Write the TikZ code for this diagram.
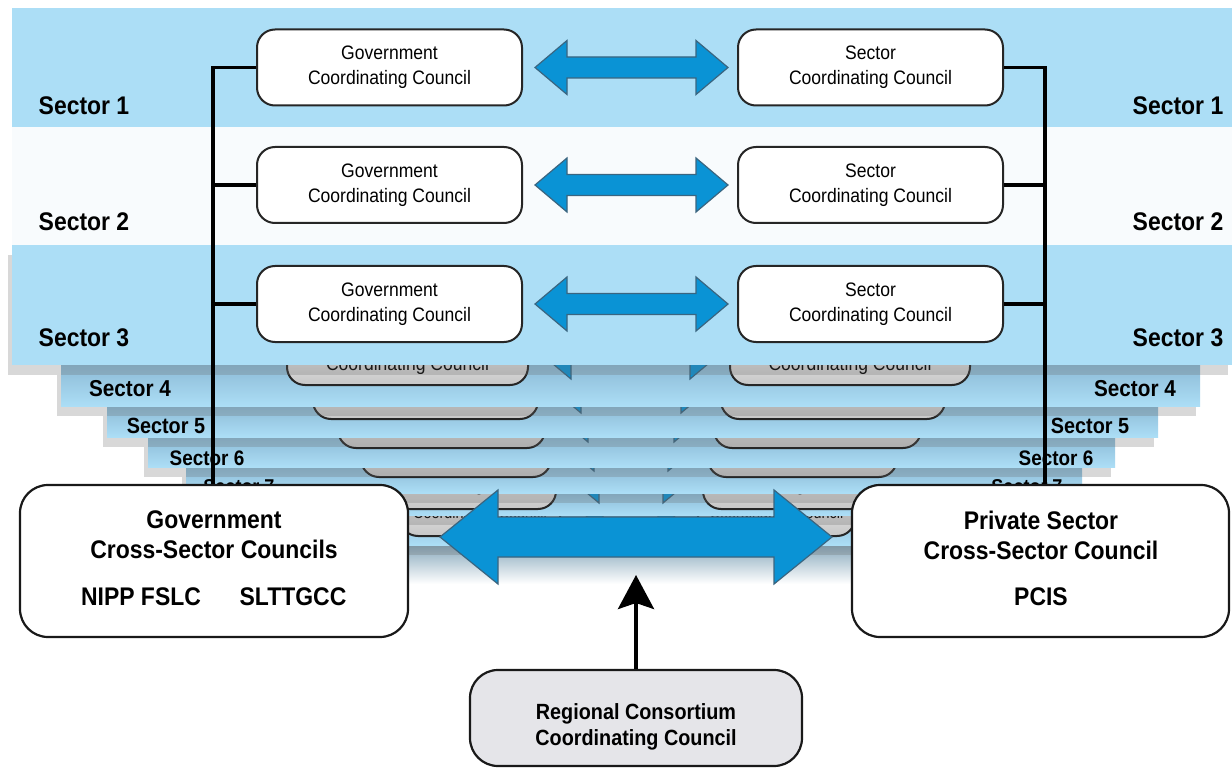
\documentclass[tikz,border=0pt]{standalone}
\usepackage{fontspec}
\setmainfont{Liberation Sans}[FakeStretch=0.9]
\usetikzlibrary{arrows.meta,shadows}

\definecolor{bandblue}{HTML}{ACDEF6}
\definecolor{bandpale}{HTML}{F8FBFD}
\definecolor{bandtop}{HTML}{8DBBD6}
\definecolor{linkblue}{HTML}{0A93D5}
\definecolor{linkedge}{HTML}{3A6580}
\definecolor{regiongray}{HTML}{E5E5E9}

% #1 left tip, #2 right tip, #3 height, #4 head length, #5 half head, #6 half shaft
\newcommand\linkarrow[6]{%
  \draw[linkarrow] (#1,#3) -- (#1+#4,#3-#5) -- (#1+#4,#3-#6) -- (#2-#4,#3-#6)
    -- (#2-#4,#3-#5) -- (#2,#3) -- (#2-#4,#3+#5) -- (#2-#4,#3+#6)
    -- (#1+#4,#3+#6) -- (#1+#4,#3+#5) -- cycle;}

\tikzset{
  council/.style={draw=black!85, line width=2pt, rounded corners=18pt, fill=white,
    minimum width=265pt, minimum height=76pt, inner sep=0pt, align=center,
    font=\fontsize{19.5}{25}\selectfont},
  backcouncil/.style={council, minimum height=64pt, top color=white, bottom color=black!22},
  crossbox/.style={draw=black!90, line width=2.2pt, rounded corners=28pt, fill=white,
    minimum height=152pt},
  crosstext/.style={align=center, inner sep=0pt, font=\bfseries\fontsize{25.5}{30}\selectfont},
  regional/.style={draw=black!90, line width=2.2pt, rounded corners=28pt, fill=regiongray,
    minimum width=332pt, minimum height=96pt},
  regionaltext/.style={align=center, inner sep=0pt, font=\bfseries\fontsize{22}{26}\selectfont},
  sectorlabel/.style={inner sep=0pt, font=\bfseries\fontsize{25.5}{25.5}\selectfont},
  backband/.style={top color=bandtop, bottom color=bandblue},
  bandshadow/.style={drop shadow={shadow xshift=-4pt, shadow yshift=-10pt, opacity=.25, fill=black!60}},
  bracket/.style={line width=3.5pt},
  linkarrow/.style={fill=linkblue, draw=linkedge, line width=1.2pt},
  uparrow/.style={line width=4pt, -{Stealth[length=34pt, width=36pt, inset=6pt]}},
}

\begin{document}
\begin{tikzpicture}[x=1pt,y=-1pt]
\useasboundingbox (0,0) rectangle (1232,770);
\fill[white] (0,0) rectangle (1232,770);

% shadow under the stack
\shade[top color=bandtop!70!gray, bottom color=white] (250,545) rectangle (1020,584);

% rear sectors, hidden labels
\foreach \s/\ytop/\ybot/\xl/\xr/\yb/\gc/\gw/\sc/\sw/\ta/\tb/\fs/\bs in {
    9/515/545/250/1020/537/480/160/776.5/157/573/688/16/20.5,
    8/493/515/220/1050/510/468/176/789/172/569/693/16.5/21}{
  \path[backband, bandshadow] (\xl,\ytop) rectangle (\xr,\ybot);
  \node[backcouncil, anchor=south, minimum width=\gw pt, font=\fontsize{\fs}{\bs}\selectfont]
    (gov\s) at (\gc,\yb) {Government\\Coordinating Council};
  \node[backcouncil, anchor=south, minimum width=\sw pt, font=\fontsize{\fs}{\bs}\selectfont]
    (sec\s) at (\sc,\yb) {Sector\\Coordinating Council};
  \linkarrow{\ta}{\tb}{\yb-32}{30}{25}{10}
}

% rear sectors 7 to 4
\foreach \s/\ytop/\ybot/\xl/\xr/\yb/\gc/\gw/\sc/\sw/\ta/\tb/\fs/\bs/\la/\lb/\ly/\ls in {
    7/467/493/186/1082/478/456/190/802.5/189/564/698/17.5/22.5/239/1027/487/20,
    6/437/467/148/1115/449/441.5/207/817.5/207/558/704/18/23/207/1056/458/21,
    5/406/437/107/1158/420/425.5/225/833/224/551/711/19/24/166/1090/426/22,
    4/365/406/61/1200/386/407.5/241/850/240/541/720/19.5/25/130/1135/389/23}{
  \path[backband, bandshadow] (\xl,\ytop) rectangle (\xr,\ybot);
  \node[backcouncil, anchor=south, minimum width=\gw pt, font=\fontsize{\fs}{\bs}\selectfont]
    (gov\s) at (\gc,\yb) {Government\\Coordinating Council};
  \node[backcouncil, anchor=south, minimum width=\sw pt, font=\fontsize{\fs}{\bs}\selectfont]
    (sec\s) at (\sc,\yb) {Sector\\Coordinating Council};
  \linkarrow{\ta}{\tb}{\yb-32}{30}{25}{10}
  \node[sectorlabel, font=\bfseries\fontsize{\ls}{\ls}\selectfont] (secl\s) at (\la,\ly) {Sector \s};
  \node[sectorlabel, font=\bfseries\fontsize{\ls}{\ls}\selectfont] (secr\s) at (\lb,\ly) {Sector \s};
}

% front sectors
\fill[bandblue, bandshadow] (12,245) rectangle (1232,365);
\fill[bandpale] (12,127) rectangle (1232,245);
\fill[bandblue] (12,8) rectangle (1232,127);

\foreach \n/\y/\ly in {1/67.5/106,2/185/222,3/304/338}{
  \node[sectorlabel] (secl\n) at (84,\ly) {Sector \n};
  \node[sectorlabel] (secr\n) at (1178,\ly) {Sector \n};
  \node[council] (gov\n) at (389.5,\y) {Government\\Coordinating Council};
  \node[council] (sec\n) at (870.5,\y) {Sector\\Coordinating Council};
  \linkarrow{535}{728}{\y}{32}{27}{10.5}
}

% cross-sector councils
\node[crossbox, minimum width=388pt] (govcross) at (214,561) {};
\node[crossbox, minimum width=377pt] (privcross) at (1040.5,561) {};
\node[crosstext] (govtitle) at (214,535) {Government\\Cross-Sector Councils};
\node[crosstext] (fslc) at (141,597) {NIPP FSLC};
\node[crosstext] (slttgcc) at (293,597) {SLTTGCC};
\node[crosstext] (privtitle) at (1041,535) {Private Sector\\Cross-Sector Council};
\node[crosstext] (pcis) at (1041,597) {PCIS};

% brackets
\coordinate (govspine) at (213,67.5);
\coordinate (secspine) at (1045,67.5);
\draw[bracket] (gov1.west) -- (gov1.west -| govspine) -- (govspine |- govcross.north);
\draw[bracket] (sec1.east) -- (sec1.east -| secspine) -- (secspine |- privcross.north);
\foreach \n in {2,3}{
  \draw[bracket] (gov\n.west) -- (gov\n.west -| govspine);
  \draw[bracket] (sec\n.east) -- (sec\n.east -| secspine);
}

\linkarrow{440}{832}{537}{58}{47}{20}

\node[regional] (regional) at (636,718) {};
\node[regionaltext] (regionaltitle) at (636,727) {Regional Consortium\\Coordinating Council};
\coordinate (regtip) at (636,575);
\draw[uparrow] (regional.north) -- (regtip);
\end{tikzpicture}
\end{document}
